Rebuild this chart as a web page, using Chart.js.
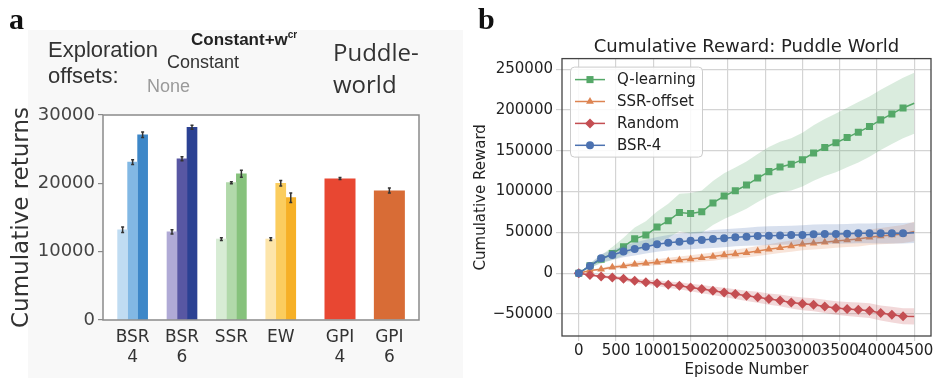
<!DOCTYPE html>
<html>
<head>
<meta charset="utf-8">
<script src="https://cdn.jsdelivr.net/npm/chart.js@4.4.0/dist/chart.umd.min.js"></script>
<style>
  body { margin: 0; background: #fff; }
  #page { position: relative; width: 936px; height: 381px; overflow: hidden; }
  canvas { position: absolute; top: 0; }
  #barCanvas { left: 0; }
  #lineCanvas { left: 470px; }
  .txt { position: absolute; white-space: nowrap; line-height: 1; }
  .sans { font-family: 'Liberation Sans', Arial, sans-serif; color: #333; }
  .letter { font-family: 'Liberation Serif', serif; font-weight: bold; font-size: 30px; color: #111; }
</style>
</head>
<body>
<div id="page">
  <div style="position:absolute;left:28px;top:30px;width:435px;height:348px;background:#f8f8f8"></div>
  <canvas id="barCanvas" width="470" height="381"></canvas>
  <canvas id="lineCanvas" width="466" height="381"></canvas>

  <div class="txt letter" style="left:9px;top:4px">a</div>
  <div class="txt letter" style="left:478px;top:4px">b</div>

  <div class="txt sans" style="left:48px;top:39px;font-size:22px">Exploration</div>
  <div class="txt sans" style="left:48px;top:65px;font-size:22px">offsets:</div>
  <div class="txt sans" style="left:191px;top:31px;font-size:17px;font-weight:bold;color:#222">Constant+w<span style="font-size:10px;position:relative;top:-7px">cr</span></div>
  <div class="txt sans" style="left:167px;top:53px;font-size:18px">Constant</div>
  <div class="txt sans" style="left:147px;top:77px;font-size:18px;color:#9a9a9a">None</div>
  <div class="txt" style="left:333px;top:36px;font-family:'Open Sans',sans-serif;font-size:24px;line-height:32px;color:#333">Puddle-<br>world</div>
</div>

<script>
// ---- panel a: cumulative returns per method / exploration offset ----
const groupLabels = [['BSR', '4'], ['BSR', '6'], ['SSR'], ['EW'], ['GPI', '4'], ['GPI', '6']];
const groupSlots = [0, 1, 2, 3, 4.2, 5.2];
const returnTicks = [0, 10000, 20000, 30000];

const offsetNone = [13200, 12900, 11850, 11850];
const offsetConstant = [23100, 23600, 20100, 20000];
const offsetConstantW = [27100, 28200, 21400, 17900];
const gpiReturns = [20700, 18950];

const errNone = [400, 300, 200, 200];
const errConstant = [350, 300, 150, 400];
const errConstantW = [400, 300, 500, 700];
const errGpi = [150, 350];

// ---- panel b: cumulative reward over episodes ----
const episodeTicks = [0, 500, 1000, 1500, 2000, 2500, 3000, 3500, 4000, 4500];
const rewardTicks = [-50000, 0, 50000, 100000, 150000, 200000, 250000];

const episodes = [0, 150, 300, 450, 600, 750, 900, 1050, 1200, 1350, 1500, 1650, 1800, 1950, 2100,
  2250, 2400, 2550, 2700, 2850, 3000, 3150, 3300, 3450, 3600, 3750, 3900, 4050, 4200, 4350, 4500];

const qLearning = [0, 9000, 17000, 24000, 32500, 42000, 46700, 56500, 64200, 74400, 73200, 75200, 86100,
  94500, 101000, 108000, 116600, 124500, 130100, 133400, 139100, 147300, 154000, 159800, 166200,
  172800, 179700, 187900, 195200, 202500, 208300];
const qLearningStd = [0, 2500, 5000, 8000, 11000, 14000, 17000, 19000, 21000, 23000, 25000, 26000, 27000,
  28000, 28500, 29000, 29500, 30000, 31000, 32000, 33000, 34000, 35000, 36000, 36500, 37000, 37000,
  37000, 37000, 37000, 37500];

const ssrOffset = [0, 3200, 4900, 7300, 8900, 11000, 12200, 13400, 15000, 16200, 17400, 19000, 20300,
  22300, 23500, 25100, 27200, 29300, 31300, 33300, 35400, 36600, 37800, 39400, 40600, 41800, 43900,
  45500, 46700, 48000, 51000];
const ssrOffsetStd = [0, 1000, 1500, 2000, 2500, 3000, 3300, 3600, 3900, 4200, 4500, 4800, 5000, 5200,
  5500, 5800, 6000, 6300, 6600, 6900, 7200, 7500, 7800, 8100, 8500, 9000, 9500, 10000, 10500, 11000, 12000];

const randomWalk = [0, -2100, -4100, -5300, -6900, -9400, -11000, -12200, -14300, -15500, -17500, -19500,
  -21600, -23600, -25600, -27700, -29500, -31700, -33400, -35800, -37500, -38700, -40700, -42700,
  -43900, -44800, -46000, -48800, -50900, -52900, -53000];
const randomWalkStd = [0, 1000, 1500, 2000, 2500, 3000, 3300, 3600, 4000, 4300, 4600, 5000, 5300, 5600,
  6000, 6300, 6600, 6900, 7200, 7500, 7800, 8000, 8200, 8400, 8600, 8800, 9000, 9300, 9600, 9800, 10000];

const bsr4 = [0, 8900, 18300, 22300, 26600, 29600, 32500, 35400, 37300, 38600, 39800, 40600, 41800,
  42700, 43900, 44700, 45500, 45900, 46300, 46700, 46700, 47600, 48000, 48000, 48400, 48800, 48800,
  49000, 49000, 49000, 49500];
const bsr4Std = [0, 3000, 5000, 6000, 7000, 8000, 8500, 9000, 9500, 10000, 10500, 10500, 11000, 11000,
  11000, 11000, 11500, 11500, 11500, 11500, 12000, 12000, 12000, 12000, 12000, 12000, 12000, 12500,
  12500, 12500, 12500];

Chart.defaults.font.family = "'DejaVu Sans', sans-serif";
Chart.defaults.animation = false;

// box around the plotting area, like a matplotlib spine set
const framePlugin = {
  id: 'frame',
  afterDraw(chart, args, opts) {
    const a = chart.chartArea, ctx = chart.ctx;
    ctx.save();
    ctx.strokeStyle = opts.color || '#444';
    ctx.lineWidth = opts.width || 1;
    ctx.strokeRect(a.left, a.top, a.right - a.left, a.bottom - a.top);
    ctx.restore();
  }
};

const plotBgPlugin = {
  id: 'plotBg',
  beforeDraw(chart, args, opts) {
    if (!opts.color) return;
    const a = chart.chartArea;
    chart.ctx.save();
    chart.ctx.fillStyle = opts.color;
    chart.ctx.fillRect(a.left, a.top, a.right - a.left, a.bottom - a.top);
    chart.ctx.restore();
  }
};

const errorBarPlugin = {
  id: 'errorBars',
  afterDatasetsDraw(chart) {
    const ctx = chart.ctx, y = chart.scales.y;
    chart.data.datasets.forEach((ds, i) => {
      if (!ds.errors) return;
      chart.getDatasetMeta(i).data.forEach((bar, j) => {
        const v = ds.data[j].y, e = ds.errors[j];
        const top = y.getPixelForValue(v + e), bot = y.getPixelForValue(v - e);
        ctx.save();
        ctx.strokeStyle = '#333';
        ctx.lineWidth = 1.5;
        ctx.beginPath();
        ctx.moveTo(bar.x, top); ctx.lineTo(bar.x, bot);
        ctx.moveTo(bar.x - 1.5, top); ctx.lineTo(bar.x + 1.5, top);
        ctx.moveTo(bar.x - 1.5, bot); ctx.lineTo(bar.x + 1.5, bot);
        ctx.stroke();
        ctx.restore();
      });
    });
  }
};

function pts(values, slots) {
  return values.map((v, i) => ({ x: slots[i], y: v }));
}

function fixedTicks(values) {
  return s => { s.ticks = values.map(v => ({ value: v })); };
}

new Chart(document.getElementById('barCanvas'), {
  type: 'bar',
  data: {
    datasets: [
      { label: 'None', data: pts(offsetNone, groupSlots), errors: errNone, barThickness: 10,
        backgroundColor: ['#c0dcf2', '#b0aad6', '#d7ecd4', '#fde5aa'] },
      { label: 'Constant', data: pts(offsetConstant, groupSlots), errors: errConstant, barThickness: 10,
        backgroundColor: ['#82b8e4', '#5857a3', '#b1d9aa', '#fbcd5e'] },
      { label: 'Constant+w', data: pts(offsetConstantW, groupSlots), errors: errConstantW, barThickness: 10,
        backgroundColor: ['#3d87c8', '#2b4193', '#86c27c', '#f6b026'] },
      { label: 'GPI', data: pts(gpiReturns, groupSlots.slice(4)), errors: errGpi, grouped: false,
        maxBarThickness: 31, backgroundColor: ['#e84732', '#d86c36'] }
    ]
  },
  options: {
    responsive: false,
    layout: { padding: { top: 115, right: 51, bottom: 0, left: 0 } },
    plugins: {
      legend: { display: false },
      tooltip: { enabled: false },
      plotBg: { color: '#fff' },
      frame: { color: '#8a8a8a', width: 1.5 }
    },
    scales: {
      x: {
        type: 'linear', min: -0.6, max: 5.8, offset: false,
        grid: { display: false },
        border: { display: false },
        afterBuildTicks: fixedTicks(groupSlots),
        afterFit: s => { s.height = 61; s.paddingLeft = 0; s.paddingRight = 0; },
        ticks: {
          autoSkip: false, maxRotation: 0, padding: -1,
          color: '#333', font: { size: 17 },
          callback: (v, i) => groupLabels[i]
        }
      },
      y: {
        min: 0, max: 30000,
        grid: { drawOnChartArea: false, tickLength: 5, color: '#8a8a8a', lineWidth: 1.2 },
        border: { display: false },
        afterBuildTicks: fixedTicks(returnTicks),
        afterFit: s => { s.width = 103; s.paddingTop = 0; s.paddingBottom = 0; },
        ticks: { padding: 3, color: '#444', font: { size: 18 }, callback: v => String(v) },
        title: { display: true, text: 'Cumulative returns', color: '#333',
          font: { size: 23 }, padding: { top: 8, bottom: 0 } }
      }
    }
  },
  plugins: [plotBgPlugin, framePlugin, errorBarPlugin]
});

// ---- panel b ----
const green = '#55a868', orange = '#dd8452', red = '#c44e52', blue = '#4c72b0';

function alpha(hex, a) {
  const n = parseInt(hex.slice(1), 16);
  return `rgba(${n >> 16},${(n >> 8) & 255},${n & 255},${a})`;
}

function seriesSets(label, mean, std, color, style, radius, order) {
  const last = mean.length - 1;
  return [
    { data: pts(mean.map((m, i) => m - std[i]), episodes), borderWidth: 0, pointRadius: 0,
      fill: false, order: order + 1 },
    { data: pts(mean.map((m, i) => m + std[i]), episodes), borderWidth: 0, pointRadius: 0,
      fill: '-1', backgroundColor: alpha(color, 0.22), order: order + 1 },
    { label, legendEntry: true, data: pts(mean, episodes), borderColor: color, backgroundColor: color,
      borderWidth: 1.5, pointStyle: style, pointBorderWidth: 0, markerRadius: radius,
      pointRadius: c => (c.dataIndex === last ? 0 : radius), fill: false, order }
  ];
}

const legendPlugin = {
  id: 'boxLegend',
  afterDraw(chart) {
    const ctx = chart.ctx, a = chart.chartArea;
    const entries = chart.data.datasets.filter(d => d.legendEntry);
    const x0 = a.left + 8, y0 = a.top + 8, w = 132, h = 90;
    ctx.save();
    ctx.fillStyle = 'rgba(255,255,255,0.85)';
    ctx.strokeStyle = '#cccccc';
    ctx.lineWidth = 1;
    ctx.beginPath();
    ctx.roundRect(x0 + 0.5, y0 + 0.5, w, h, 4);
    ctx.fill();
    ctx.stroke();
    entries.forEach((d, i) => {
      const y = y0 + 13 + i * 21.9;
      ctx.strokeStyle = d.borderColor;
      ctx.lineWidth = 1.5;
      ctx.beginPath();
      ctx.moveTo(x0 + 5, y); ctx.lineTo(x0 + 35, y);
      ctx.stroke();
      ctx.fillStyle = d.borderColor;
      Chart.helpers.drawPoint(ctx, { pointStyle: d.pointStyle, radius: d.markerRadius, rotation: 0, borderWidth: 0 }, x0 + 20, y);
      ctx.fillStyle = '#222';
      ctx.font = "15px 'DejaVu Sans'";
      ctx.textBaseline = 'middle';
      ctx.fillText(d.label, x0 + 47, y + 1);
    });
    ctx.restore();
  }
};

new Chart(document.getElementById('lineCanvas'), {
  type: 'line',
  data: {
    datasets: [
      ...seriesSets('Q-learning', qLearning, qLearningStd, green, 'rect', 5, 7),
      ...seriesSets('SSR-offset', ssrOffset, ssrOffsetStd, orange, 'triangle', 4.5, 5),
      ...seriesSets('Random', randomWalk, randomWalkStd, red, 'rectRot', 5, 3),
      ...seriesSets('BSR-4', bsr4, bsr4Std, blue, 'circle', 4, 1)
    ]
  },
  options: {
    responsive: false,
    layout: { padding: { top: 0, right: 1, bottom: 0, left: 0 } },
    plugins: {
      legend: { display: false },
      tooltip: { enabled: false },
      title: { display: true, text: 'Cumulative Reward: Puddle World', fullSize: false,
        color: '#222', font: { size: 18, weight: 'normal' }, padding: { top: 37, bottom: 0 } },
      frame: { color: '#444', width: 1.3 }
    },
    scales: {
      x: {
        type: 'linear', min: -225, max: 4725,
        grid: { color: '#d4d4d4', lineWidth: 1.2, tickLength: 5 },
        border: { display: false },
        afterBuildTicks: fixedTicks(episodeTicks),
        afterFit: s => { s.height = 45; s.paddingLeft = 0; s.paddingRight = 0; },
        ticks: { autoSkip: false, maxRotation: 0, padding: 1, color: '#222', font: { size: 15 },
          callback: v => String(v) },
        title: { display: true, text: 'Episode Number', color: '#222', font: { size: 15 },
          padding: { top: 0, bottom: 2 } }
      },
      y: {
        min: -77000, max: 263000,
        grid: { color: '#d4d4d4', lineWidth: 1.2, tickLength: 6 },
        border: { display: false },
        afterBuildTicks: fixedTicks(rewardTicks),
        afterFit: s => { s.width = 92; s.paddingTop = 0; s.paddingBottom = 0; },
        ticks: { padding: 3, color: '#222', font: { size: 15 },
          callback: v => String(v).replace('-', '\u2212') },
        title: { display: true, text: 'Cumulative Reward', color: '#222', font: { size: 15 },
          padding: { top: 2, bottom: 0 } }
      }
    }
  },
  plugins: [framePlugin, legendPlugin]
});
</script>
</body>
</html>
